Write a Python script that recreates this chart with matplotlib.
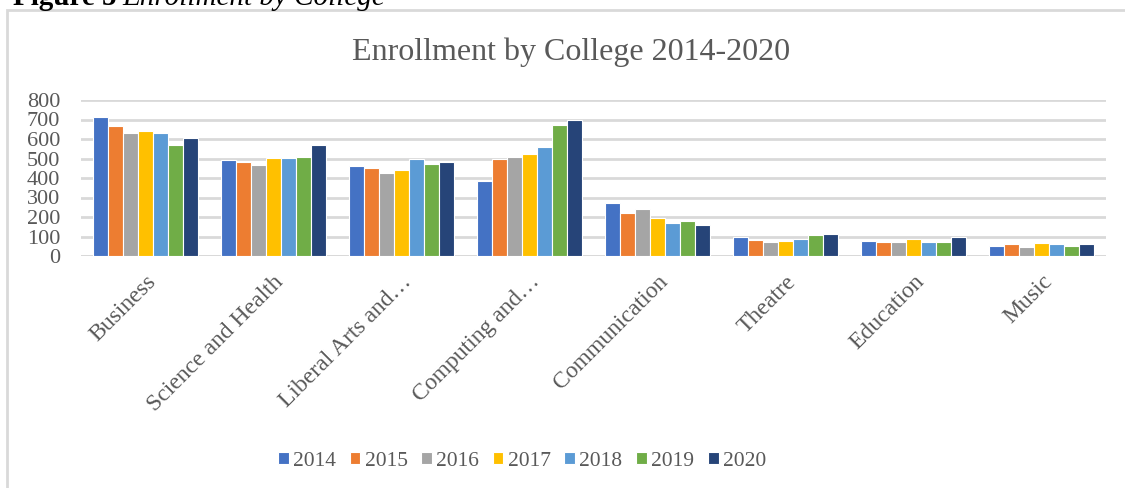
import matplotlib
matplotlib.use("Agg")
import matplotlib.pyplot as plt
import numpy as np
from matplotlib.patches import Rectangle

categories = ["Business", "Science and Health", "Liberal Arts and\u2026", "Computing and\u2026",
              "Communication", "Theatre", "Education", "Music"]
years = ["2014", "2015", "2016", "2017", "2018", "2019", "2020"]
v2014 = [711, 494, 460, 387, 270, 98, 77, 50]
v2015 = [669, 480, 451, 496, 219, 80, 72, 60]
v2016 = [629, 467, 428, 508, 240, 72, 74, 46]
v2017 = [643, 504, 440, 523, 197, 78, 88, 67]
v2018 = [633, 504, 497, 557, 169, 88, 74, 60]
v2019 = [569, 508, 472, 674, 178, 106, 72, 53]
v2020 = [607, 568, 480, 697, 159, 111, 97, 60]
series = [v2014, v2015, v2016, v2017, v2018, v2019, v2020]
colors = ["#4472C4", "#ED7D31", "#A5A5A5", "#FFC000", "#5B9BD5", "#70AD47", "#264478"]
yticks = [0, 100, 200, 300, 400, 500, 600, 700, 800]

plt.rcParams['font.family'] = ['Liberation Serif', 'DejaVu Serif']
W, H = 1125, 488
fig = plt.figure(figsize=(W/100, H/100), dpi=100)

# outer chart border
fig.patches.append(Rectangle((7/W, -0.1), 1.2, (H - 10)/H + 0.1, transform=fig.transFigure,
                             fill=False, edgecolor="#D9D9D9", linewidth=2))
# header text (partially cut off at the top, as in the source page)
fig.text(117/W, 1 - 5/H, "Figure 5", fontsize=21, fontweight="bold", color="black",
         va="baseline", ha="right")
fig.text(122/W, 1 - 5/H, "Enrollment by College", fontsize=21, style="italic", color="black",
         va="baseline", ha="left")

ax = fig.add_axes([81/W, 1 - 256/H, (1106 - 81)/W, (256 - 100)/H])
n = len(categories)
x = np.arange(n)
bw = 0.117
for i, (vals, c, lab) in enumerate(zip(series, colors, years)):
    ax.bar(x + (i - 3) * bw, vals, width=bw, color=c, edgecolor="white", linewidth=0.8, label=lab, zorder=3)

ax.set_xlim(-0.5, n - 0.5)
ax.set_ylim(0, 800)
ax.set_yticks(yticks)
ax.set_yticklabels([str(t) for t in yticks], fontsize=16, color="#595959")
ax.yaxis.grid(True, color="#D9D9D9", linewidth=2, zorder=0)
ax.set_axisbelow(True)
for s in ax.spines.values():
    s.set_visible(False)
ax.tick_params(axis="both", length=0)
ax.tick_params(axis="y", pad=15)
ax.set_xticks(x)
ax.set_xticklabels(categories, rotation=45, ha="right", va="top", rotation_mode="anchor",
                   fontsize=17, color="#595959")
ax.tick_params(axis="x", pad=11)
ax.axhline(0, color="#D9D9D9", linewidth=2, zorder=1)

fig.text(571/W, 1 - 52/H, "Enrollment by College 2014-2020", fontsize=23, color="#595959",
         ha="center", va="center")

handles, labels = ax.get_legend_handles_labels()
leg = fig.legend(handles, labels, loc="center", bbox_to_anchor=(522/W, 1 - 461/H), ncol=7,
                 frameon=False, fontsize=15.5, handlelength=0.5, handleheight=0.5,
                 handletextpad=0.2, columnspacing=0.63, labelcolor="#595959")

fig.savefig("out.png", dpi=100)
